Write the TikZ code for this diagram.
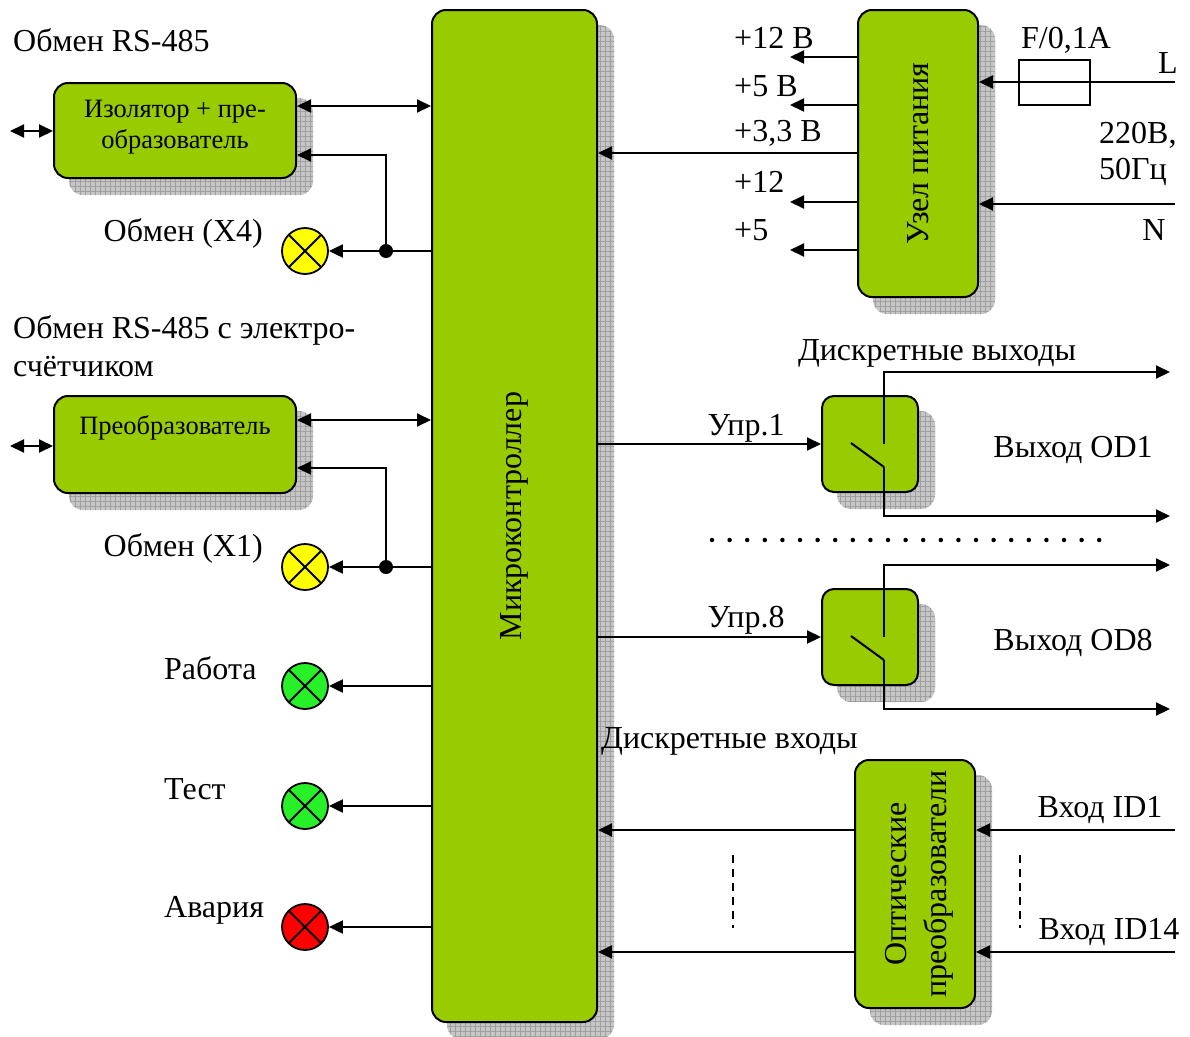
\documentclass[tikz,border=0pt]{standalone}
\usepackage{fontspec}
\setmainfont{Liberation Serif}
\usetikzlibrary{arrows.meta,patterns.meta,calc}
\pgfdeclarelayer{background}
\pgfsetlayers{background,main}
\definecolor{boxgreen}{RGB}{153,204,0}
\definecolor{lampyellow}{RGB}{255,255,0}
\definecolor{lampgreen}{RGB}{40,240,40}
\definecolor{lampred}{RGB}{255,0,0}
\newcommand\lblfont{\fontsize{32}{36}\selectfont}
\newcommand\boxfont{\fontsize{26.5}{31}\selectfont}
\begin{document}
\begin{tikzpicture}[x=1pt,y=-1pt,
  box/.style={draw, line width=2pt, fill=boxgreen, rounded corners=14pt, inner sep=0pt},
  shadowbox/.style={fill=gray!45, rounded corners=14pt, postaction={pattern={Hatch[distance=5pt,line width=0.5pt]}, pattern color=gray!75}},
  lbl/.style={font=\lblfont, inner sep=0pt},
  boxtxt/.style={font=\boxfont, inner sep=0pt, align=center},
  conn/.style={line width=2pt},
  arr/.style={conn, -{Triangle[length=14pt,width=13pt]}},
  darr/.style={conn, {Triangle[length=14pt,width=13pt]}-{Triangle[length=14pt,width=13pt]}},
  lamp/.style={circle, draw, line width=1.8pt, minimum size=46pt, inner sep=0pt,
    path picture={\draw[line width=1.8pt] (path picture bounding box.north west) -- (path picture bounding box.south east) (path picture bounding box.north east) -- (path picture bounding box.south west);}},
  dot/.style={circle, fill, inner sep=0pt, minimum size=14pt}
]
\useasboundingbox (0,0) rectangle (1190,1036);

% boxes
\node[box, minimum width=165pt, minimum height=1012pt] (mc) at (514.5,516) {};
\node[lbl, rotate=90] (mctxt) at (mc.center) {Микроконтроллер};

\node[box, minimum width=242pt, minimum height=95pt] (iso) at (175,130.5) {};
\node[boxtxt] (isotxt) at (175,127) {Изолятор + пре-\\образователь};

\node[box, minimum width=242pt, minimum height=97pt] (conv) at (175,444.5) {};
\node[boxtxt] (convtxt) at (175,428) {Преобразователь};

\node[box, minimum width=120pt, minimum height=287pt] (pwr) at (918,153.5) {};
\node[lbl, rotate=90] (pwrtxt) at (pwr.center) {Узел питания};

\node[box, minimum width=96pt, minimum height=96pt, rounded corners=12pt] (r1) at (870,444) {};
\node[box, minimum width=96pt, minimum height=96pt, rounded corners=12pt] (r8) at (870,637) {};

\node[box, minimum width=120pt, minimum height=248pt] (opt) at (915,884) {};
\node[lbl, rotate=90, align=center, font=\fontsize{32}{40}\selectfont] (opttxt) at ([xshift=4pt]opt.center) {Оптические\\преобразователи};

\begin{pgfonlayer}{background}
\foreach \n in {mc,iso,conv,pwr,r1,r8,opt}
  \path[shadowbox] ([shift={(16,16)}]\n.north west) rectangle ([shift={(16,16)}]\n.south east);
\end{pgfonlayer}

% lamps
\node[lamp, fill=lampyellow] (l4) at (305,251) {};
\node[lamp, fill=lampyellow] (l1) at (305,567) {};
\node[lamp, fill=lampgreen] (lw) at (305,686) {};
\node[lamp, fill=lampgreen] (lt) at (305,806) {};
\node[lamp, fill=lampred] (la) at (305,927) {};

% isolator connections
\coordinate (ya1) at (0,106);
\coordinate (ya2) at (0,155);
\coordinate (d4) at (386,251);
\coordinate (e1) at (10,131);
\draw[darr] (iso.east |- ya1) -- (mc.west |- ya1);
\draw[arr] (mc.west |- l4) -- (l4.east);
\draw[arr] (d4) |- (iso.east |- ya2);
\node[dot] (dot4) at (d4) {};
\draw[darr] (e1) -- (iso.west |- e1);

% converter connections
\coordinate (yb1) at (0,420);
\coordinate (yb2) at (0,468);
\coordinate (d1) at (386,567);
\coordinate (e2) at (10,446);
\draw[darr] (conv.east |- yb1) -- (mc.west |- yb1);
\draw[arr] (mc.west |- l1) -- (l1.east);
\draw[arr] (d1) |- (conv.east |- yb2);
\node[dot] (dot1) at (d1) {};
\draw[darr] (e2) -- (conv.west |- e2);

% status lamps
\draw[arr] (mc.west |- lw) -- (lw.east);
\draw[arr] (mc.west |- lt) -- (lt.east);
\draw[arr] (mc.west |- la) -- (la.east);

% power outputs
\coordinate (p1) at (790,57);
\coordinate (p2) at (790,105);
\coordinate (p3) at (0,153);
\coordinate (p4) at (790,202);
\coordinate (p5) at (790,250);
\draw[arr] (pwr.west |- p1) -- (p1);
\draw[arr] (pwr.west |- p2) -- (p2);
\draw[arr] (pwr.west |- p3) -- (mc.east |- p3);
\draw[arr] (pwr.west |- p4) -- (p4);
\draw[arr] (pwr.west |- p5) -- (p5);

% mains
\coordinate (Lin) at (1175,82);
\coordinate (Nin) at (1175,204);
\draw[arr] (Lin) -- (pwr.east |- Lin);
\draw[arr] (Nin) -- (pwr.east |- Nin);
\node[draw, line width=2pt, minimum width=71pt, minimum height=45pt, inner sep=0pt] (fuse) at (1054.5,82.5) {};

% relays
\draw[arr] (mc.east |- r1) -- (r1.west);
\draw[arr] (mc.east |- r8) -- (r8.west);
\coordinate (o1t) at (1170,372);
\coordinate (o1b) at (1170,516);
\coordinate (o8t) at (1170,565);
\coordinate (o8b) at (1170,709);
\draw[arr] (884,444) -- (884,372) -- (o1t);
\draw[conn] (851,443) -- (884,467);
\draw[arr] (884,467) -- (884,516) -- (o1b);
\draw[arr] (884,637) -- (884,565) -- (o8t);
\draw[conn] (851,636) -- (884,660);
\draw[arr] (884,660) -- (884,709) -- (o8b);
\draw[line width=4.5pt, line cap=round, dash pattern=on 0pt off 17.6pt] (712,540) -- (1108,540);

% inputs
\coordinate (i1) at (1175,830);
\coordinate (i14) at (1175,952);
\draw[arr] (i1) -- (opt.east |- i1);
\draw[arr] (opt.west |- i1) -- (mc.east |- i1);
\draw[arr] (i14) -- (opt.east |- i14);
\draw[arr] (opt.west |- i14) -- (mc.east |- i14);
\draw[line width=1.5pt, dash pattern=on 8pt off 6pt] (733,855) -- (733,928);
\draw[line width=1.5pt, dash pattern=on 8pt off 6pt] (1020,855) -- (1020,928);

% labels
\node[lbl, anchor=west] at (13,40) {Обмен RS-485};
\node[lbl, anchor=east] at (263,233) {Обмен (X4)};
\node[lbl, anchor=west] at (13,330) {Обмен RS-485 с электро-};
\node[lbl, anchor=west] at (13,367) {счётчиком};
\node[lbl, anchor=east] at (263,548) {Обмен (X1)};
\node[lbl, anchor=west] at (164,668) {Работа};
\node[lbl, anchor=west] at (164,789) {Тест};
\node[lbl, anchor=west] at (164,910) {Авария};

\node[lbl, anchor=west] at (734,38) {+12 В};
\node[lbl, anchor=west] at (734,86) {+5 В};
\node[lbl, anchor=west] at (734,133) {+3,3 В};
\node[lbl, anchor=west] at (734,182) {+12};
\node[lbl, anchor=west] at (734,230) {+5};
\node[lbl] at (1066,40) {F/0,1A};
\node[lbl] at (1168,63) {L};
\node[lbl, anchor=west] at (1099,135) {220В,};
\node[lbl, anchor=west] at (1099,172) {50Гц};
\node[lbl] at (1154,230) {N};

\node[lbl] at (937,353) {Дискретные выходы};
\node[lbl] at (746,428) {Упр.1};
\node[lbl] at (746,620) {Упр.8};
\node[lbl] at (1073,450) {Выход OD1};
\node[lbl] at (1073,643) {Выход OD8};
\node[lbl, anchor=west] at (601,741) {Дискретные входы};
\node[lbl] at (1100,810) {Вход ID1};
\node[lbl] at (1109,932) {Вход ID14};
\end{tikzpicture}
\end{document}
